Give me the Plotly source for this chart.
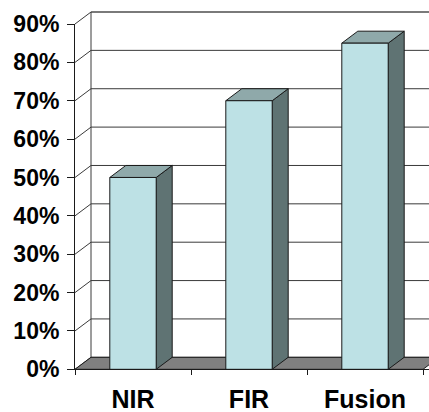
import plotly.graph_objects as go

# Detection rates per sensor configuration
categories = ["NIR", "FIR", "Fusion"]
values = [50, 70, 85]
tick_values = [0, 10, 20, 30, 40, 50, 60, 70, 80, 90]
tick_labels = [f"{v}%" for v in tick_values]

W, H = 429, 412
LEFT_PX, BOTTOM_PX, TOP90_PX = 75, 369.3, 24.0
BAND_PX = 116.0                       # width of one category band
PX_PER_PCT = (BOTTOM_PX - TOP90_PX) / 90.0
DEPTH_X = 16 / BAND_PX                # 3D depth offset in x units
DEPTH_Y = 12 / PX_PER_PCT             # 3D depth offset in percent units
HALF_BAR = 0.2

X0 = -0.5
X_END = 2.5
x_range = [X0, X0 + (W - LEFT_PX) / BAND_PX]
y_range = [0, BOTTOM_PX / PX_PER_PCT]

FRONT = "#BDE1E5"
TOP = "#8FA9AA"
SIDE = "#5F7373"
FLOOR = "#808080"
EDGE = "#1a1a1a"
GRID = "#3a3a3a"

fig = go.Figure()


def poly(xs, ys, fill, line_color=EDGE, width=1):
    fig.add_trace(go.Scatter(
        x=xs + [xs[0]], y=ys + [ys[0]], mode="lines", fill="toself",
        fillcolor=fill, line=dict(color=line_color, width=width),
        hoverinfo="skip", showlegend=False, xaxis="x", yaxis="y"))


def seg(xs, ys, color=GRID, width=1):
    fig.add_trace(go.Scatter(
        x=xs, y=ys, mode="lines", line=dict(color=color, width=width),
        hoverinfo="skip", showlegend=False, xaxis="x", yaxis="y"))


# back wall gridlines and left wall diagonals
for v in tick_values:
    top = v == tick_values[-1]
    seg([X0 + DEPTH_X, X_END + DEPTH_X + 1], [v + DEPTH_Y, v + DEPTH_Y],
        color="#7a7a7a" if top else GRID, width=2 if top else 1)
    seg([X0, X0 + DEPTH_X], [v, v + DEPTH_Y])
# back corner edge
seg([X0 + DEPTH_X, X0 + DEPTH_X], [DEPTH_Y, tick_values[-1] + DEPTH_Y])

# floor
poly([X0, X_END, X_END + DEPTH_X, X0 + DEPTH_X],
     [0, 0, DEPTH_Y, DEPTH_Y], FLOOR)

# 3D columns: side, top, front
for i, v in enumerate(values):
    xl, xr = i - HALF_BAR, i + HALF_BAR
    poly([xr, xr + DEPTH_X, xr + DEPTH_X, xr],
         [0, DEPTH_Y, v + DEPTH_Y, v], SIDE)
    poly([xl, xr, xr + DEPTH_X, xl + DEPTH_X],
         [v, v, v + DEPTH_Y, v + DEPTH_Y], TOP)
    poly([xl, xr, xr, xl], [0, 0, v, v], FRONT)

# axis subplot carrying the category and percent ticks
fig.add_trace(go.Scatter(
    x=categories, y=values, mode="markers", marker=dict(opacity=0),
    hoverinfo="skip", showlegend=False, xaxis="x2", yaxis="y2"))

font = dict(family="Liberation Sans, Arial", color="#000000", weight="bold")
x_dom = [LEFT_PX / W, 1]
y_bottom = (H - BOTTOM_PX) / H

fig.update_layout(
    template="none",
    width=W, height=H, autosize=False,
    margin=dict(l=0, r=0, t=0, b=0, pad=0),
    paper_bgcolor="white", plot_bgcolor="rgba(0,0,0,0)",
    xaxis=dict(domain=x_dom, range=x_range, visible=False,
               automargin=False, fixedrange=True),
    yaxis=dict(domain=[y_bottom, 1], range=y_range, visible=False,
               automargin=False, fixedrange=True),
    xaxis2=dict(
        domain=x_dom, range=x_range, type="category", anchor="y2",
        categoryorder="array", categoryarray=categories,
        tickson="boundaries", ticks="outside", ticklen=5, tickcolor=EDGE,
        showline=True, linecolor=EDGE, linewidth=1, showgrid=False,
        zeroline=False, automargin=False, ticklabelstandoff=8,
        tickfont=dict(size=25, **font), fixedrange=True),
    yaxis2=dict(
        domain=[y_bottom, (H - TOP90_PX) / H], range=[0, 90], anchor="x2",
        tickvals=tick_values, ticktext=tick_labels,
        ticks="outside", ticklen=7, tickcolor=EDGE,
        showline=True, linecolor=EDGE, linewidth=1, showgrid=False,
        zeroline=False, automargin=False, ticklabelstandoff=3,
        tickfont=dict(size=23, **font), fixedrange=True),
)

fig.write_html("out.html")
